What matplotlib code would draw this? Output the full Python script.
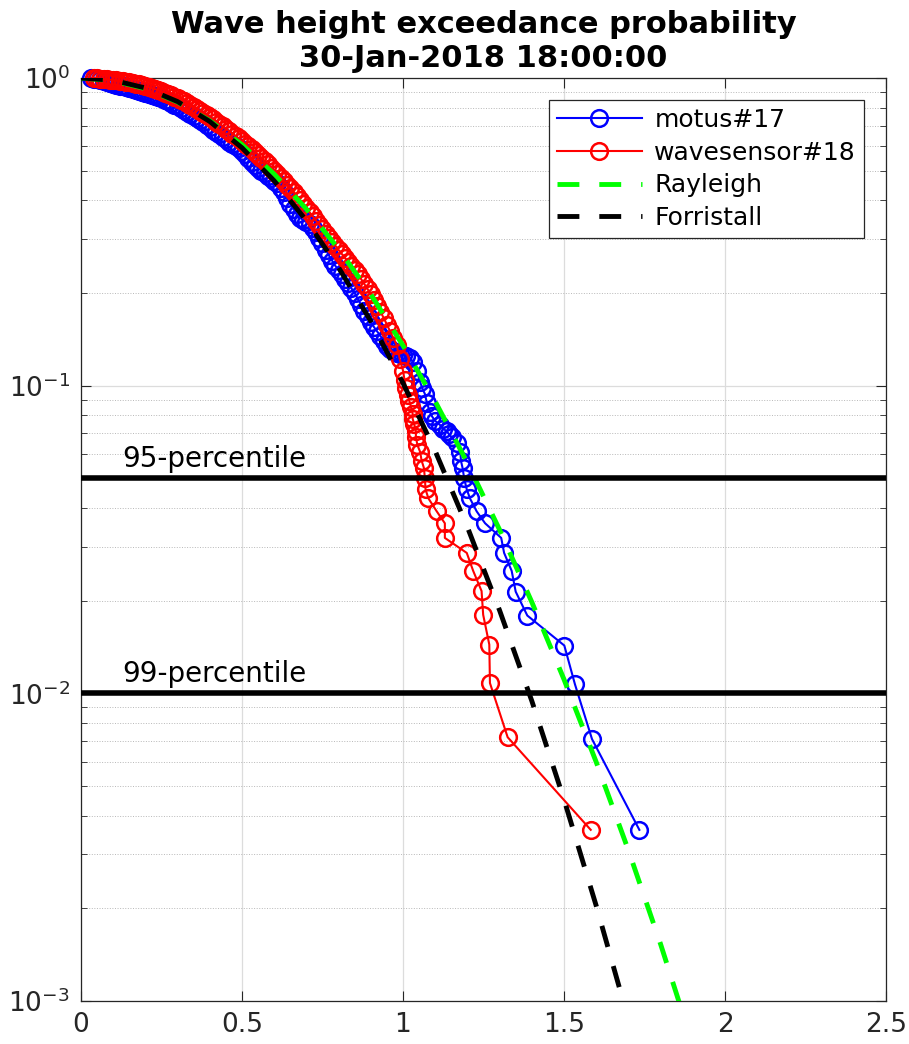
import matplotlib
matplotlib.use("Agg")
import matplotlib.pyplot as plt
from matplotlib.ticker import NullLocator

# normalised wave height H/Hs and exceedance probability
motus_h = [0.03, 0.04, 0.05, 0.06, 0.07, 0.08, 0.09, 0.10, 0.11, 0.12,
           0.13, 0.14, 0.15, 0.16, 0.17, 0.18, 0.19, 0.20, 0.21, 0.22,
           0.23, 0.24, 0.25, 0.26, 0.27, 0.28, 0.29, 0.30, 0.31, 0.32,
           0.33, 0.34, 0.35, 0.36, 0.37, 0.38, 0.39, 0.40, 0.41, 0.42,
           0.43, 0.44, 0.45, 0.46, 0.47, 0.48, 0.49, 0.50, 0.51, 0.52,
           0.53, 0.54, 0.55, 0.56, 0.57, 0.58, 0.59, 0.60, 0.61, 0.62,
           0.63, 0.64, 0.65, 0.66, 0.67, 0.68, 0.69, 0.70, 0.71, 0.72,
           0.73, 0.74, 0.75, 0.76, 0.77, 0.78, 0.79, 0.80, 0.81, 0.82,
           0.83, 0.84, 0.85, 0.86, 0.87, 0.88, 0.89, 0.90, 0.91, 0.92,
           0.93, 0.94, 0.95, 0.96, 0.97, 0.98, 0.99, 1.00, 1.01,
           1.022, 1.032, 1.043, 1.053, 1.06, 1.068, 1.074, 1.084, 1.09, 1.099,
           1.115, 1.125, 1.136, 1.143, 1.151, 1.167, 1.178, 1.18, 1.185, 1.19,
           1.198, 1.208, 1.229, 1.255, 1.305, 1.314, 1.3375, 1.35, 1.386, 1.501,
           1.534, 1.587, 1.734]
motus_p = [1.0, 0.995, 0.99, 0.983, 0.975, 0.968, 0.962, 0.956, 0.95, 0.945,
           0.94, 0.934, 0.928, 0.921, 0.915, 0.908, 0.902, 0.895, 0.888, 0.881,
           0.874, 0.867, 0.86, 0.85, 0.84, 0.83, 0.82, 0.81, 0.8, 0.789,
           0.778, 0.766, 0.755, 0.742, 0.73, 0.717, 0.705, 0.692, 0.68, 0.668,
           0.656, 0.644, 0.632, 0.621, 0.61, 0.6, 0.59, 0.578, 0.565, 0.55,
           0.535, 0.522, 0.51, 0.5, 0.49, 0.481, 0.473, 0.464, 0.455, 0.44,
           0.425, 0.407, 0.39, 0.375, 0.36, 0.352, 0.345, 0.34, 0.335, 0.325,
           0.315, 0.302, 0.29, 0.277, 0.265, 0.255, 0.245, 0.237, 0.23, 0.222,
           0.215, 0.207, 0.2, 0.191, 0.183, 0.175, 0.168, 0.161, 0.155, 0.15,
           0.145, 0.14, 0.135, 0.132, 0.13, 0.128, 0.127, 0.126, 0.125,
           0.123, 0.119, 0.112, 0.103, 0.098, 0.094, 0.088, 0.082, 0.0795, 0.077,
           0.0745, 0.0725, 0.071, 0.0695, 0.068, 0.065, 0.061, 0.057, 0.054, 0.050,
           0.046, 0.043, 0.039, 0.0357, 0.032, 0.0286, 0.025, 0.0214, 0.0179, 0.0143,
           0.0107, 0.0071, 0.0036]

wave_h = [0.04, 0.05, 0.06, 0.07, 0.08, 0.09, 0.10, 0.11, 0.12, 0.13,
          0.14, 0.15, 0.16, 0.17, 0.18, 0.19, 0.20, 0.21, 0.22, 0.23,
          0.24, 0.25, 0.26, 0.27, 0.28, 0.29, 0.30, 0.31, 0.32, 0.33,
          0.34, 0.35, 0.36, 0.37, 0.38, 0.39, 0.40, 0.41, 0.42, 0.43,
          0.44, 0.45, 0.46, 0.47, 0.48, 0.49, 0.50, 0.51, 0.52, 0.53,
          0.54, 0.55, 0.56, 0.57, 0.58, 0.59, 0.60, 0.61, 0.62, 0.63,
          0.64, 0.65, 0.66, 0.67, 0.68, 0.69, 0.70, 0.71, 0.72, 0.73,
          0.74, 0.75, 0.76, 0.77, 0.78, 0.79, 0.80, 0.81, 0.82, 0.83,
          0.84, 0.85, 0.86, 0.87, 0.88, 0.89, 0.90, 0.91, 0.92, 0.93,
          0.94, 0.95, 0.96, 0.97, 0.98, 0.99, 1.00,
          1.005, 1.01, 1.015, 1.02, 1.025, 1.03, 1.03, 1.035, 1.04, 1.04,
          1.045, 1.053, 1.058, 1.065, 1.068, 1.07, 1.079, 1.105, 1.13, 1.13,
          1.198, 1.218, 1.244, 1.249, 1.268, 1.270, 1.325, 1.583]
wave_p = [1.0, 0.998, 0.996, 0.993, 0.99, 0.988, 0.985, 0.983, 0.98, 0.976,
          0.972, 0.968, 0.963, 0.958, 0.953, 0.947, 0.94, 0.934, 0.928, 0.92,
          0.912, 0.904, 0.896, 0.887, 0.878, 0.869, 0.86, 0.85, 0.84, 0.829,
          0.818, 0.806, 0.795, 0.783, 0.772, 0.76, 0.748, 0.735, 0.722, 0.71,
          0.698, 0.685, 0.672, 0.66, 0.648, 0.636, 0.624, 0.612, 0.6, 0.588,
          0.576, 0.563, 0.55, 0.537, 0.524, 0.511, 0.498, 0.486, 0.474, 0.462,
          0.45, 0.438, 0.426, 0.414, 0.402, 0.39, 0.378, 0.366, 0.355, 0.344,
          0.333, 0.322, 0.312, 0.303, 0.294, 0.285, 0.276, 0.268, 0.26, 0.252,
          0.245, 0.237, 0.23, 0.222, 0.214, 0.206, 0.198, 0.19, 0.182, 0.174,
          0.166, 0.158, 0.15, 0.143, 0.136, 0.122, 0.112,
          0.104, 0.098, 0.093, 0.089, 0.085, 0.081, 0.078, 0.075, 0.071, 0.068,
          0.064, 0.061, 0.057, 0.054, 0.050, 0.046, 0.043, 0.039, 0.0357, 0.032,
          0.0286, 0.025, 0.0215, 0.018, 0.0144, 0.0108, 0.0072, 0.0036]

# theoretical curves
theo_h = [0.0, 0.1, 0.2, 0.3, 0.4, 0.5, 0.6, 0.7, 0.8, 0.9, 1.0,
          1.1, 1.2, 1.3, 1.4, 1.5, 1.6, 1.7, 1.8, 1.9]
rayleigh_p = [1.0, 0.980, 0.923, 0.835, 0.726, 0.607, 0.487, 0.375, 0.278, 0.198, 0.135,
              0.0889, 0.0561, 0.0340, 0.0198, 0.0111, 0.00598, 0.00309, 0.00153, 0.00072]
forristall_p = [1.0, 0.983, 0.928, 0.838, 0.722, 0.593, 0.463, 0.344, 0.242, 0.162, 0.102,
                0.0613, 0.0347, 0.0186, 0.00945, 0.00452, 0.00204, 0.00087, 0.00035, 0.00013]

pct_levels = [0.05, 0.01]
pct_labels = ['95-percentile', '99-percentile']

dark = '#262626'

fig = plt.figure(figsize=(9.09, 10.44), dpi=100)
ax = fig.add_axes([0.0891, 0.0412, 0.8856, 0.8841])

ax.plot(motus_h, motus_p, '-o', color='#0000ff', lw=1.5, ms=12, mew=1.8,
        mfc='none', label='motus#17', clip_on=False, zorder=3)
ax.plot(wave_h, wave_p, '-o', color='#ff0000', lw=1.5, ms=12, mew=1.8,
        mfc='none', label='wavesensor#18', clip_on=False, zorder=3)
ax.plot(theo_h, rayleigh_p, '--', color='#00ff00', lw=3.5, dashes=(4.5, 4.1),
        label='Rayleigh', zorder=4)
ax.plot(theo_h, forristall_p, '--', color='k', lw=3.5, dashes=(4.5, 4.1),
        label='Forristall', zorder=4)

for lev, lab in zip(pct_levels, pct_labels):
    ax.axhline(lev, color='k', lw=4, zorder=5)
    ax.text(0.127, lev * 1.04, lab, fontsize=20, color='k', va='bottom', ha='left')

ax.set_yscale('log')
ax.set_xlim(0, 2.5)
ax.set_ylim(1e-3, 1)
ax.set_xticks([0, 0.5, 1, 1.5, 2, 2.5])
ax.set_xticklabels(['0', '0.5', '1', '1.5', '2', '2.5'])
ax.xaxis.set_minor_locator(NullLocator())

ax.grid(which='major', color='#dcdcdc', lw=0.9, ls='-')
ax.grid(which='minor', axis='y', color='#b8b8b8', lw=0.7, ls=':')
ax.set_axisbelow(True)

ax.tick_params(which='both', direction='in', top=True, right=True,
               color=dark, labelcolor=dark, labelsize=19)
ax.tick_params(which='major', length=7, width=0.8, pad=8)
ax.tick_params(which='minor', length=4, width=0.6)
for s in ax.spines.values():
    s.set_color(dark)
    s.set_linewidth(0.9)

ax.set_title('Wave height exceedance probability\n30-Jan-2018 18:00:00',
             fontsize=22, fontweight='bold', pad=8)

leg = ax.legend(loc='upper right', fontsize=18, fancybox=False, framealpha=1,
                edgecolor=dark, borderaxespad=0.9, handlelength=3.4,
                labelspacing=0.35, borderpad=0.3, handletextpad=0.5)
leg.get_frame().set_linewidth(0.9)

fig.savefig('out.png', dpi=100)
